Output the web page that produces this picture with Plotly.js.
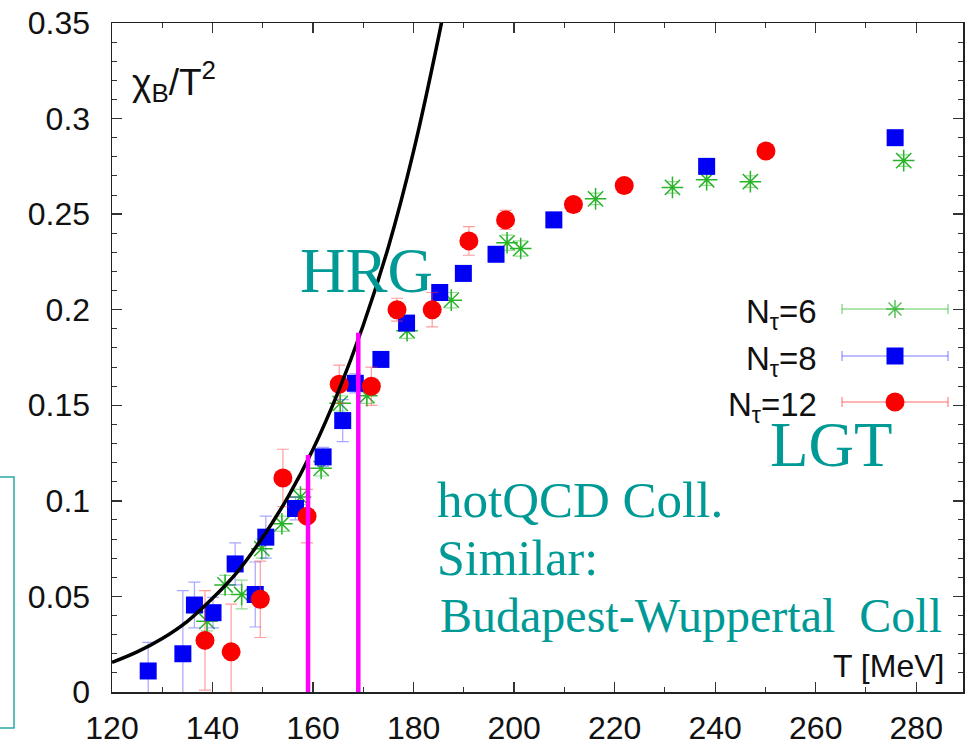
<!DOCTYPE html>
<html>
<head>
<meta charset="utf-8">
<script src="https://cdn.plot.ly/plotly-3.0.1.min.js"></script>
<style>
  html, body { margin: 0; padding: 0; background: #fff; }
  #chart { width: 972px; height: 747px; }
</style>
</head>
<body>
<div id="chart"></div>
<script>
// Lattice results for chi_B/T^2 vs temperature (MeV), three lattice extents
const tempN6 = [138.9, 142.5, 145.8, 149.8, 153.8, 157.5, 161.6, 165.4, 170.7, 178.7, 187.5, 198.6, 201.3, 216.2, 231.5, 238.3, 247.0, 277.5];
const chiN6  = [0.037, 0.056, 0.051, 0.075, 0.088, 0.102, 0.117, 0.151, 0.155, 0.189, 0.205, 0.235, 0.232, 0.258, 0.264, 0.268, 0.267, 0.278];
const errN6  = [0.005, 0.005, 0.0075, 0.005, 0.004, 0.004, 0.004, 0.004, 0.004, 0.004, 0.004, 0.004, 0.004, 0.003, 0.003, 0.003, 0.003, 0.003];

const tempN8 = [127.2, 134.1, 136.4, 140.1, 144.5, 148.5, 150.6, 156.5, 162.0, 165.9, 168.4, 173.5, 178.6, 185.2, 189.9, 196.4, 207.9, 238.3, 275.8];
const chiN8  = [0.011, 0.020, 0.0455, 0.0415, 0.067, 0.051, 0.081, 0.096, 0.123, 0.142, 0.1615, 0.174, 0.193, 0.209, 0.219, 0.229, 0.247, 0.275, 0.290];
const errN8  = [0.015, 0.033, 0.012, 0.008, 0.011, 0.017, 0.011, 0.006, 0.005, 0.011, 0.005, 0.003, 0.003, 0.003, 0.002, 0.002, 0.002, 0.002, 0.002];

const tempN12 = [138.5, 143.7, 149.5, 154.0, 158.8, 165.2, 171.6, 176.7, 183.7, 191.0, 198.3, 211.8, 221.9, 250.1];
const chiN12  = [0.027, 0.021, 0.0485, 0.112, 0.092, 0.161, 0.160, 0.200, 0.200, 0.236, 0.247, 0.255, 0.265, 0.283];
const errN12  = [0.026, 0.025, 0.020, 0.015, 0.014, 0.010, 0.010, 0.006, 0.009, 0.0075, 0.005, 0.003, 0.003, 0.003];

// Hadron resonance gas curve
const hrgTemp = [120, 125, 130, 135, 140, 145, 150, 155, 160, 165, 170, 175, 180, 185, 187];
const hrgChi  = [0.0155, 0.021, 0.028, 0.037, 0.049, 0.063, 0.081, 0.102, 0.127, 0.157, 0.192, 0.233, 0.283, 0.343, 0.370];

// Vertical markers up to the HRG curve
const markTemp = [159, 169];
const markChi  = [0.124, 0.188];

// Axis ticks
const xTicks = [120, 140, 160, 180, 200, 220, 240, 260, 280];
const yTicks = [0, 0.05, 0.1, 0.15, 0.2, 0.25, 0.3, 0.35];
const yTickText = ['0', '0.05', '0.1', '0.15', '0.2', '0.25', '0.3', '0.35'];

const seriesNames = ['N<sub>τ</sub>=6', 'N<sub>τ</sub>=8', 'N<sub>τ</sub>=12'];

// plot area in pixels, used to place the hand-drawn key and notes
const L = 112, R = 963, T = 23, B = 692;
const px = x => (x - L) / (R - L);
const py = y => (B - y) / (B - T);

const GREEN = 'rgb(40,180,40)';
const GREEN_ERR = 'rgba(60,190,60,0.55)';
const BLUE = 'rgb(0,0,245)';
const BLUE_ERR = 'rgba(60,60,255,0.45)';
const RED = 'rgb(250,0,0)';
const RED_ERR = 'rgba(255,60,60,0.5)';
const TEAL = '#009a96';

const traces = [
  {
    x: tempN6, y: chiN6, type: 'scatter', mode: 'markers', showlegend: false,
    marker: { symbol: 'asterisk-open', size: 18, color: GREEN, line: { color: 'rgba(40,180,40,0.75)', width: 1.5 } },
    error_y: { type: 'data', array: errN6, visible: true, color: GREEN_ERR, thickness: 1.2, width: 6 }
  },
  {
    x: tempN8, y: chiN8, type: 'scatter', mode: 'markers', showlegend: false,
    marker: { symbol: 'square', size: 17, color: BLUE },
    error_y: { type: 'data', array: errN8, visible: true, color: BLUE_ERR, thickness: 1.2, width: 6 }
  },
  {
    x: tempN12, y: chiN12, type: 'scatter', mode: 'markers', showlegend: false,
    marker: { symbol: 'circle', size: 19, color: RED },
    error_y: { type: 'data', array: errN12, visible: true, color: RED_ERR, thickness: 1.2, width: 6 }
  },
  {
    x: hrgTemp, y: hrgChi, type: 'scatter', mode: 'lines', showlegend: false,
    line: { color: '#000', width: 3.5, shape: 'spline', smoothing: 1 }
  }
];
markTemp.forEach((t, i) => {
  traces.push({
    x: [t, t], y: [0, markChi[i]], type: 'scatter', mode: 'lines', showlegend: false,
    line: { color: '#ff00ff', width: 4.5 }
  });
});

// key: label on the left, horizontal error bar with symbol on the right
const shapes = [];
const annotations = [];
const keyRows = [309, 356, 402];
const keyX0 = 842, keyX1 = 948, keyMid = 895, cap = 5;
const keyColors = [GREEN_ERR, BLUE_ERR, RED_ERR];
keyRows.forEach((ry, i) => {
  const c = keyColors[i];
  shapes.push({ type: 'line', xref: 'paper', yref: 'paper', x0: px(keyX0), x1: px(keyX1), y0: py(ry), y1: py(ry), line: { color: c, width: 1.5 } });
  shapes.push({ type: 'line', xref: 'paper', yref: 'paper', x0: px(keyX0), x1: px(keyX0), y0: py(ry - cap), y1: py(ry + cap), line: { color: c, width: 1.5 } });
  shapes.push({ type: 'line', xref: 'paper', yref: 'paper', x0: px(keyX1), x1: px(keyX1), y0: py(ry - cap), y1: py(ry + cap), line: { color: c, width: 1.5 } });
  annotations.push({
    xref: 'paper', yref: 'paper', x: px(819), y: py(ry + 5), xanchor: 'right', yanchor: 'middle',
    text: seriesNames[i], showarrow: false,
    font: { family: 'Liberation Sans, Arial, sans-serif', size: 33, color: '#111' }
  });
});
// key symbols
{
  const r = 9, ry = keyRows[0];
  const d = r * 0.72;
  const path = `M ${px(keyMid - r)} ${py(ry)} L ${px(keyMid + r)} ${py(ry)} ` +
               `M ${px(keyMid)} ${py(ry - r)} L ${px(keyMid)} ${py(ry + r)} ` +
               `M ${px(keyMid - d)} ${py(ry - d)} L ${px(keyMid + d)} ${py(ry + d)} ` +
               `M ${px(keyMid - d)} ${py(ry + d)} L ${px(keyMid + d)} ${py(ry - d)}`;
  shapes.push({ type: 'path', xref: 'paper', yref: 'paper', path: path, line: { color: 'rgba(40,180,40,0.8)', width: 1.5 } });
  const s = 8.5, ry2 = keyRows[1];
  shapes.push({ type: 'rect', xref: 'paper', yref: 'paper', x0: px(keyMid - s), x1: px(keyMid + s), y0: py(ry2 + s), y1: py(ry2 - s), fillcolor: BLUE, line: { width: 0 } });
  const c = 9.5, ry3 = keyRows[2];
  shapes.push({ type: 'circle', xref: 'paper', yref: 'paper', x0: px(keyMid - c), x1: px(keyMid + c), y0: py(ry3 + c), y1: py(ry3 - c), fillcolor: RED, line: { width: 0 } });
}

// boxed frame partly off the left edge
shapes.push({ type: 'rect', xref: 'paper', yref: 'paper', x0: px(-10), x1: px(14), y0: py(728), y1: py(477), line: { color: '#2aa8a8', width: 1.5 } });

const sansFont = 'Liberation Sans, Arial, sans-serif';
const serifFont = 'Liberation Serif, Times New Roman, serif';

annotations.push(
  { xref: 'paper', yref: 'paper', x: px(130), y: py(82), xanchor: 'left', yanchor: 'middle', showarrow: false,
    text: 'χ<sub>B</sub>/T<sup>2</sup>', font: { family: sansFont, size: 37, color: '#111' } },
  { xref: 'paper', yref: 'paper', x: px(946), y: py(666), xanchor: 'right', yanchor: 'middle', showarrow: false,
    text: 'T [MeV]', font: { family: sansFont, size: 32, color: '#111' } },
  { xref: 'paper', yref: 'paper', x: px(366), y: py(271), xanchor: 'center', yanchor: 'middle', showarrow: false,
    text: 'HRG', font: { family: serifFont, size: 63, color: TEAL } },
  { xref: 'paper', yref: 'paper', x: px(831), y: py(445), xanchor: 'center', yanchor: 'middle', showarrow: false,
    text: 'LGT', font: { family: serifFont, size: 63, color: TEAL } },
  { xref: 'paper', yref: 'paper', x: px(435), y: py(500), xanchor: 'left', yanchor: 'middle', showarrow: false,
    text: 'hotQCD Coll.', font: { family: serifFont, size: 51, color: TEAL } },
  { xref: 'paper', yref: 'paper', x: px(435), y: py(558), xanchor: 'left', yanchor: 'middle', showarrow: false,
    text: 'Similar:', font: { family: serifFont, size: 50, color: TEAL } },
  { xref: 'paper', yref: 'paper', x: px(438), y: py(615), xanchor: 'left', yanchor: 'middle', showarrow: false,
    text: 'Budapest-Wuppertal&nbsp;&nbsp;Coll', font: { family: serifFont, size: 48, color: TEAL } }
);

const axisCommon = {
  showline: true, linecolor: '#222', linewidth: 1.5, mirror: 'allticks',
  ticks: 'inside', ticklen: 10, tickwidth: 1.3, tickcolor: '#333',
  showgrid: false, zeroline: false,
  tickfont: { family: sansFont, size: 32, color: '#111' }
};

const layout = {
  width: 972, height: 747,
  margin: { l: L, r: 972 - R, t: T, b: 747 - B, pad: 0 },
  paper_bgcolor: '#fff', plot_bgcolor: '#fff',
  showlegend: false,
  xaxis: Object.assign({}, axisCommon, {
    range: [120, 289.3], tickmode: 'array', tickvals: xTicks, ticklabelstandoff: 7,
    minor: { dtick: 10, ticks: 'inside', ticklen: 5, tickwidth: 1, tickcolor: '#333' }
  }),
  yaxis: Object.assign({}, axisCommon, {
    range: [0, 0.35], tickmode: 'array', tickvals: yTicks, ticktext: yTickText, ticklabelstandoff: 14,
    minor: { dtick: 0.01, ticks: 'inside', ticklen: 5, tickwidth: 1, tickcolor: '#333' }
  }),
  shapes: shapes,
  annotations: annotations
};

Plotly.newPlot('chart', traces, layout, { staticPlot: true, displayModeBar: false });
</script>
</body>
</html>
